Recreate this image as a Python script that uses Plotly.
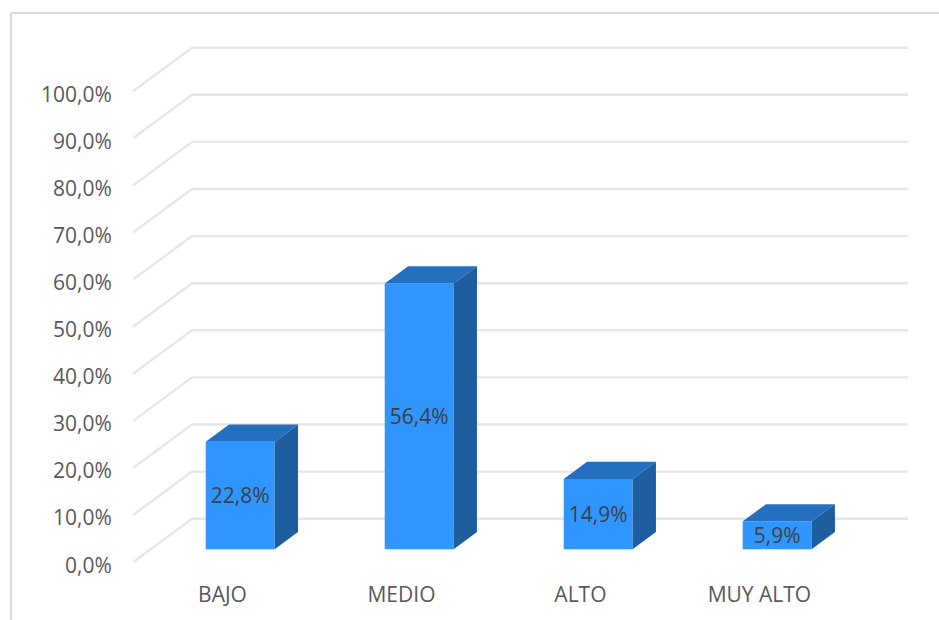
import plotly.graph_objects as go

categories = ["BAJO", "MEDIO", "ALTO", "MUY ALTO"]
values = [22.8, 56.4, 14.9, 5.9]
value_labels = ["22,8%", "56,4%", "14,9%", "5,9%"]
y_ticks = [0, 10, 20, 30, 40, 50, 60, 70, 80, 90, 100]
y_tick_labels = ["0,0%", "10,0%", "20,0%", "30,0%", "40,0%", "50,0%",
                 "60,0%", "70,0%", "80,0%", "90,0%", "100,0%"]

# oblique projection of the chart's depth, in axis units
DEPTH_X = 0.33
DEPTH_Y = 9.24
BAR_FRONT = 0.30
BAR_BACK = 0.695
BAR_WIDTH = 0.385

FRONT = "#3096FF"
TOP = "#2470BE"
SIDE = "#1F5E9E"
GRID = "#E6E6E6"
TEXT = "#595959"
FONT = "Open Sans"


def proj(x, y, d):
    return x + DEPTH_X * d, y + DEPTH_Y * d


fig = go.Figure()
xs = list(range(len(categories)))

# front faces
fig.add_trace(go.Bar(
    x=[proj(i, 0, BAR_FRONT)[0] for i in xs],
    y=values,
    base=proj(0, 0, BAR_FRONT)[1],
    width=BAR_WIDTH,
    marker=dict(color=FRONT, line=dict(width=0)),
    text=value_labels,
    textposition="inside",
    insidetextanchor="middle",
    textangle=0,
    constraintext="none",
    textfont=dict(family=FONT, size=21, color="#404040"),
    hoverinfo="skip",
))

# top and side faces
for i, v in zip(xs, values):
    l, r = i - BAR_WIDTH / 2, i + BAR_WIDTH / 2
    top = [proj(l, v, BAR_FRONT), proj(r, v, BAR_FRONT), proj(r, v, BAR_BACK), proj(l, v, BAR_BACK)]
    side = [proj(r, 0, BAR_FRONT), proj(r, v, BAR_FRONT), proj(r, v, BAR_BACK), proj(r, 0, BAR_BACK)]
    for poly, col in ((top, TOP), (side, SIDE)):
        fig.add_trace(go.Scatter(
            x=[p[0] for p in poly] + [poly[0][0]],
            y=[p[1] for p in poly] + [poly[0][1]],
            mode="lines", fill="toself", fillcolor=col,
            line=dict(width=0, color=col), hoverinfo="skip",
        ))

# walls: gridlines run from the front edge to the back wall, then across
left, right = -0.5, 3.5
shapes = []
for t in y_ticks:
    bx, by = proj(left, t, 1)
    ex, _ = proj(right, t, 1)
    for x0, y0, x1, y1 in ((left, t, bx, by), (bx, by, ex, by)):
        shapes.append(dict(type="line", xref="x", yref="y", x0=x0, y0=y0, x1=x1, y1=y1,
                           layer="below", line=dict(color=GRID, width=2.4)))

# picture frame
W, H = 939, 620
L, R, T, B = 133, 9, 20, 40
px = lambda v: (v - L) / (W - L - R)
py = lambda v: 1 - (v - T) / (H - T - B)
for x0, y0, x1, y1 in ((11, 13, 939, 13), (11, 13, 11, 620)):
    shapes.append(dict(type="line", xref="paper", yref="paper",
                       x0=px(x0), y0=py(y0), x1=px(x1), y1=py(y1),
                       line=dict(color="#D9D9D9", width=2)))

fig.update_layout(
    width=W, height=H, autosize=False,
    margin=dict(l=L, r=R, t=T, b=B, pad=0),
    paper_bgcolor="white", plot_bgcolor="white",
    showlegend=False, barmode="overlay",
    shapes=shapes,
    font=dict(family=FONT, size=21, color=TEXT),
    xaxis=dict(range=[-0.5, 3.953], tickmode="array", tickvals=xs, ticktext=categories,
               showgrid=False, zeroline=False, showline=False, ticks="",
               tickfont=dict(family=FONT, size=21, color=TEXT)),
    yaxis=dict(range=[-3.78, 115.12], tickmode="array", tickvals=y_ticks, ticktext=y_tick_labels,
               showgrid=False, zeroline=False, showline=False, ticks="outside",
               ticklen=16, tickcolor="rgba(0,0,0,0)", ticklabelshift=3,
               tickfont=dict(family=FONT, size=21, color=TEXT)),
)

fig.write_html("out.html", config={"displayModeBar": False},
               post_script="document.body.style.margin='0';")
